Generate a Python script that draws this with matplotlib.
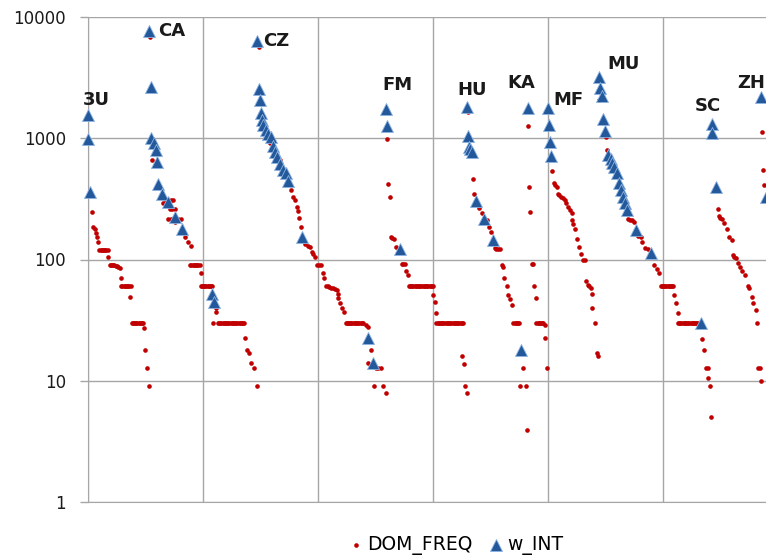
import matplotlib
matplotlib.use('Agg')
import matplotlib.pyplot as plt
from matplotlib.ticker import LogLocator, NullLocator, MultipleLocator, FuncFormatter

# DOM_FREQ por grupo: (registro, valor)
dom_3u = [(3.5, 245), (4.3, 184), (6, 180), (7, 166), (7.8, 154), (8.7, 139),
          (10, 120), (11, 120), (12, 120), (13, 120), (14, 120), (15, 120), (16, 120), (17, 120), (17.4, 105),
          (19, 90), (20, 90), (21, 90), (22, 90), (23, 90), (24, 89), (25, 88), (26, 86), (27.5, 85), (28.4, 70),
          (29, 60), (30, 60), (31, 60), (32, 60), (33, 60), (34, 60), (35, 60), (36, 60), (37, 60), (36.2, 49),
          (38, 30), (39, 30), (40, 30), (41, 30), (42, 30), (43, 30), (44, 30), (45, 30), (46, 30), (47, 30), (48, 30),
          (48.7, 27), (49.6, 18), (51.3, 12.7), (53, 9)]
dom_ca = [(53.7, 6800), (55.9, 660), (65.2, 295), (68, 310), (70, 310), (72, 310), (74, 310),
          (71, 260), (73, 260), (75.7, 260), (70, 215), (72, 215), (74, 215), (76, 215), (78, 215), (80.9, 215),
          (75.7, 205), (84.1, 152), (87, 140), (89.6, 130),
          (89, 90), (90, 90), (91, 90), (92, 90), (93, 90), (94, 90), (95, 90), (96, 90), (97, 90), (98, 78),
          (98, 60), (99, 60), (100, 60), (101, 60), (102, 60), (103, 60), (104, 60), (105, 60), (106, 60), (107, 60), (108, 60),
          (108.4, 30), (111, 40), (111.5, 37),
          (113, 30), (114, 30), (115, 30), (116, 30), (117, 30), (118, 30), (119, 30), (120, 30), (121, 30), (122, 30),
          (123, 30), (124, 30), (125, 30), (126, 30), (127, 30), (128, 30), (129, 30), (130, 30), (131, 30), (132, 30),
          (133, 30), (134, 30), (135, 30), (136, 30),
          (136.5, 22.5), (138, 18), (140.3, 17), (141.5, 14), (144.3, 12.7), (146.7, 9)]
dom_cz = [(148.7, 5700), (158.3, 920), (167, 660), (173.3, 500), (176.3, 374), (178, 330), (180, 310),
          (181.5, 270), (182.9, 250), (183.7, 220), (185, 185), (188.7, 135), (191, 130), (193, 128),
          (194.5, 116), (196, 110), (197.4, 105), (199, 90), (200.5, 90), (202.3, 90), (204.1, 77), (205.5, 70),
          (207, 60), (208.7, 60), (210, 59), (211.5, 58), (213, 58), (214.5, 57), (216.3, 56), (217.1, 52),
          (217.4, 48), (219.1, 44), (220.9, 40), (222.6, 37),
          (224, 30), (225, 30), (226, 30), (227, 30), (228, 30), (229, 30), (230, 30), (231, 30), (232, 30),
          (233, 30), (234, 30), (235, 30), (236, 30), (237, 30), (238, 30), (239, 30),
          (241.5, 29), (243.2, 28), (246.1, 18), (243.7, 14), (250.2, 12.7), (252, 12.7), (254.8, 12.7),
          (248.7, 9), (256.8, 9), (258.9, 8)]
dom_fm = [(260.3, 980), (261.1, 420), (262.6, 325), (263.2, 152), (264.5, 150), (266.1, 148), (267.8, 126),
          (272.8, 92), (274.2, 92), (275.7, 92), (276.5, 80), (278.5, 74),
          (279, 60), (280, 60), (281, 60), (282, 60), (283, 60), (284, 60), (285, 60), (286, 60), (287, 60),
          (288, 60), (289, 60), (290, 60), (291, 60), (292, 60), (293, 60), (294, 60), (295, 60), (296, 60),
          (297, 60), (298, 60), (299, 60), (300, 60),
          (300.3, 51), (301.7, 45), (302.3, 36),
          (303, 30), (304, 30), (305, 30), (306, 30), (307, 30), (308, 30), (309, 30), (310, 30), (311, 30),
          (312, 30), (313, 30), (314, 30), (315, 30), (316, 30), (317, 30), (318, 30), (319, 30), (320, 30),
          (321, 30), (322, 30), (323, 30), (324, 30), (325, 30), (326, 30),
          (325.5, 16), (327.2, 13.7), (327.8, 9), (329.3, 8)]
dom_hu = [(330.2, 1650), (335, 465), (335.9, 350), (340, 265), (342.3, 240), (346.7, 210), (348.7, 185),
          (350.4, 167), (353.9, 125), (355, 122), (356.5, 121), (358.3, 121), (359.7, 90), (361.1, 86),
          (362, 71), (364.1, 61), (365.5, 51), (367, 47), (369, 42),
          (370, 30), (371, 30), (372, 30), (373, 30), (374, 30), (375, 30),
          (378.5, 12.8), (375.7, 9), (381, 9), (381.5, 3.9)]
dom_ka = [(382.9, 1250), (383.5, 395), (384.3, 245), (386.3, 92), (387, 92), (388.1, 61), (389.3, 48),
          (390, 30), (391, 30), (392, 30), (393, 30), (394, 30), (395, 30), (396, 30), (397, 29),
          (397.4, 22.5), (398.9, 12.7)]
dom_mf = [(403.7, 540), (405.5, 425), (406.5, 410), (407.6, 395), (408.4, 345), (410, 340), (411.5, 330),
          (413, 320), (414.8, 310), (416, 290), (417.4, 270), (419, 255), (420.6, 240), (420.9, 212),
          (422, 195), (423.5, 180), (425, 148), (427, 127), (428.7, 112), (430.7, 99), (432.2, 99),
          (433.5, 66), (434.5, 62), (436, 60), (437.4, 58), (438, 52), (438.5, 40), (440.9, 30),
          (442.3, 17), (443.7, 16)]
dom_mu = [(444.3, 2070), (450.2, 1030), (451, 800), (453, 620), (469.3, 215), (471, 212), (472.8, 210),
          (475, 205), (478, 157), (480.9, 153), (482, 140), (484.3, 125), (486.7, 121), (492.4, 90),
          (494.5, 83), (496.5, 77),
          (498, 60), (499, 60), (500, 60), (501, 60), (502, 60), (503, 60), (504, 60), (505, 60), (506, 60),
          (507, 60), (508, 60), (509, 60),
          (509.5, 51), (511, 44), (512.8, 36),
          (513, 30), (514, 30), (515, 30), (516, 30), (517, 30), (518, 30), (519, 30), (520, 30), (521, 30),
          (522, 30), (523, 30), (524, 30), (525, 30), (526, 30), (527, 30), (528, 30), (529, 30), (530, 30),
          (531, 30), (532, 30),
          (534.2, 22), (535.9, 18), (537.1, 12.8), (538.9, 12.8), (539.4, 10.6), (540.9, 9), (541.7, 5)]
dom_sc = [(547.6, 260), (548.7, 228), (550, 220), (551, 215), (553.3, 200), (555.4, 180), (557.4, 153),
          (559.7, 145), (561.1, 109), (562, 105), (563.2, 102), (565, 93), (567, 87), (569, 80), (571.3, 74),
          (573.7, 61), (574.8, 58), (577.1, 49), (578.5, 44), (580.6, 38), (581.5, 30),
          (582.9, 12.8), (584.3, 12.8), (585.2, 10)]
dom_zh = [(586.3, 1130), (587.2, 547), (588.1, 410)]

# w_INT por grupo
wint_3u = [(0, 1550), (0.3, 980), (1.7, 360)]
wint_ca = [(52.8, 7700), (54.5, 2650), (55, 1000), (57.1, 910), (58.9, 800), (60.3, 640), (60.9, 420),
           (64.3, 350), (69.6, 300), (75.4, 225), (82, 180), (107.6, 52), (109.6, 45)]
wint_cz = [(147.2, 6400), (148.7, 2550), (149.6, 2050), (150.2, 1610), (151, 1410), (152.4, 1280),
           (154.5, 1170), (156.8, 1080), (158.9, 1030), (160.6, 860), (162.6, 775), (164.6, 705), (167, 610),
           (169.3, 547), (172.2, 515), (174.2, 445), (185.8, 154), (243.2, 22.5), (248.1, 14)]
wint_fm = [(259.1, 1730), (260.3, 1270), (271.3, 121)]
wint_hu = [(329.3, 1800), (330.2, 1040), (331.3, 850), (332.2, 815), (333.7, 775), (337.1, 305),
           (344.6, 215), (351.9, 145), (376.5, 17.8)]
wint_ka = [(382.3, 1780)]
wint_mf = [(399.7, 1780), (400.9, 1290), (401.7, 935), (402.6, 720)]
wint_mu = [(444.3, 3200), (445.2, 2600), (446.7, 2250), (448.1, 1430), (449.6, 1150), (452.4, 725),
           (454.8, 670), (456, 630), (457.7, 580), (459.7, 515), (461.7, 425), (463.5, 374), (464.9, 330),
           (466.9, 295), (468.4, 256), (476.3, 175), (489.3, 114), (533, 30)]
wint_sc = [(542.3, 1300), (542.9, 1110), (545.8, 395)]
wint_zh = [(585.2, 2170), (589.6, 330)]

# etiquetas de grupo: (nombre, registro, valor, alineacion)
etiquetas = [('3U', 7, 2070, 'center'), ('CA', 60.9, 7700, 'left'), ('CZ', 151.9, 6340, 'left'),
             ('FM', 268.7, 2750, 'center'), ('HU', 334.3, 2500, 'center'), ('KA', 376.5, 2880, 'center'),
             ('MF', 418.1, 2070, 'center'), ('MU', 465.9, 4100, 'center'), ('SC', 539.4, 1845, 'center'),
             ('ZH', 589.0, 2880, 'right')]

dom = dom_3u + dom_ca + dom_cz + dom_fm + dom_hu + dom_ka + dom_mf + dom_mu + dom_sc + dom_zh
wint = wint_3u + wint_ca + wint_cz + wint_fm + wint_hu + wint_ka + wint_mf + wint_mu + wint_sc + wint_zh
dom_x = [p[0] for p in dom]
dom_y = [p[1] for p in dom]
wint_x = [p[0] for p in wint]
wint_y = [p[1] for p in wint]

gris = '#A6A6A6'
fig = plt.figure(figsize=(7.66, 5.57), dpi=100)
ax = fig.add_axes([88 / 766, 1 - 502 / 557, 678 / 766, 485 / 557])
ax.set_yscale('log')
ax.set_ylim(1, 10000)
ax.set_xlim(0, 589.6)
ax.yaxis.set_major_locator(LogLocator(base=10, numticks=10))
ax.yaxis.set_minor_locator(NullLocator())
ax.yaxis.set_major_formatter(FuncFormatter(lambda v, p: f'{int(round(v))}'))
ax.xaxis.set_major_locator(MultipleLocator(100))
ax.tick_params(axis='x', length=0, labelbottom=False)
ax.tick_params(axis='y', length=5.8, width=1, color=gris, pad=10, labelsize=12, labelcolor='#1a1a1a')
ax.grid(True, color=gris, lw=1)
ax.set_axisbelow(True)
for s in ['top', 'right']:
    ax.spines[s].set_visible(False)
for s in ['left', 'bottom']:
    ax.spines[s].set_color(gris)

ax.scatter(dom_x, dom_y, s=11, c='#C00000', linewidths=0, clip_on=False, zorder=3, label='DOM_FREQ')
ax.scatter(wint_x, wint_y, marker='^', s=75, c='#23599B', edgecolors='#8FB4E3', linewidths=0.6,
           clip_on=False, zorder=4, label='w_INT')

for nombre, x, y, ha in etiquetas:
    ax.text(x, y, nombre, ha=ha, va='center', fontsize=13, fontweight='bold', color='#1a1a1a', zorder=5)

fig.legend(loc='center', bbox_to_anchor=(0.597, 0.022), ncol=2, frameon=False, fontsize=13.5,
           handlelength=0.5, handletextpad=0.35, columnspacing=1.0)

fig.savefig('out.png', dpi=100)
